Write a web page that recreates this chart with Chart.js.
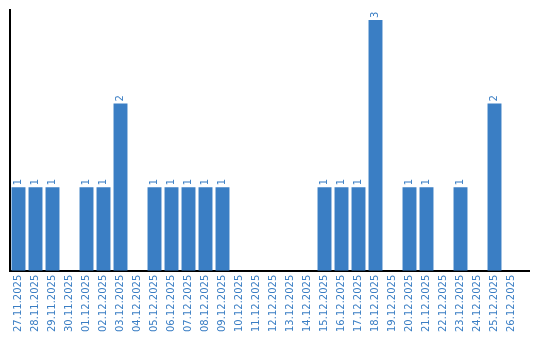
<!DOCTYPE html>
<html>
<head>
<meta charset="utf-8">
<script src="https://cdn.jsdelivr.net/npm/chart.js@4/dist/chart.umd.min.js"></script>
<style>
	html, body { margin: 0; padding: 0; background: #fff; }
	#wrap { width: 540px; height: 340px; }
</style>
</head>
<body>
<div id="wrap"><canvas id="grafico"></canvas></div>
<script>
var dias = ['27.11.2025', '28.11.2025', '29.11.2025', '30.11.2025', '01.12.2025', '02.12.2025',
	'03.12.2025', '04.12.2025', '05.12.2025', '06.12.2025', '07.12.2025', '08.12.2025',
	'09.12.2025', '10.12.2025', '11.12.2025', '12.12.2025', '13.12.2025', '14.12.2025',
	'15.12.2025', '16.12.2025', '17.12.2025', '18.12.2025', '19.12.2025', '20.12.2025',
	'21.12.2025', '22.12.2025', '23.12.2025', '24.12.2025', '25.12.2025', '26.12.2025'];
var quantidades = [1, 1, 1, 0, 1, 1, 2, 0, 1, 1, 1, 1, 1, 0, 0, 0, 0, 0, 1, 1, 1, 3, 0, 1, 1, 0, 1, 0, 2, 0];

var azul = '#3a7ec4';

// rotulos verticais em cima de cada barra
var rotulosBarras = {
	id: 'rotulosBarras',
	afterDatasetsDraw: function(chart) {
		var ctx = chart.ctx;
		var meta = chart.getDatasetMeta(0);
		ctx.save();
		ctx.fillStyle = azul;
		ctx.font = '10px "DejaVu Sans"';
		ctx.textAlign = 'left';
		ctx.textBaseline = 'middle';
		meta.data.forEach(function(bar, i) {
			var v = chart.data.datasets[0].data[i];
			if (!v) return;
			ctx.save();
			ctx.translate(bar.x, bar.y - 2);
			ctx.rotate(-Math.PI / 2);
			ctx.fillText(String(v), 0, 0);
			ctx.restore();
		});
		ctx.restore();
	}
};

// o eixo x passa um pouco alem da ultima categoria
var eixoEstendido = {
	id: 'eixoEstendido',
	afterDraw: function(chart) {
		var ctx = chart.ctx;
		var area = chart.chartArea;
		var y = Math.round(chart.scales.x.top);
		ctx.save();
		ctx.strokeStyle = '#000';
		ctx.lineWidth = 2;
		ctx.beginPath();
		ctx.moveTo(area.right - 1, y);
		ctx.lineTo(area.right + 10, y);
		ctx.stroke();
		ctx.restore();
	}
};

new Chart(document.getElementById('grafico').getContext('2d'), {
	type: 'bar',
	data: {
		labels: dias,
		datasets: [{
			data: quantidades,
			backgroundColor: azul,
			barPercentage: 0.82,
			categoryPercentage: 1
		}]
	},
	options: {
		responsive: true,
		maintainAspectRatio: false,
		animation: false,
		layout: { padding: { left: 10, right: 20, top: 10, bottom: 4 } },
		plugins: {
			legend: { display: false },
			tooltip: { enabled: false }
		},
		scales: {
			x: {
				grid: { display: false, drawTicks: false },
				border: { color: '#000', width: 2 },
				ticks: {
					color: azul,
					font: { family: 'DejaVu Sans', size: 10 },
					minRotation: 90,
					maxRotation: 90,
					autoSkip: false,
					padding: 4
				}
			},
			y: {
				min: 0,
				max: 3.12,
				grid: { display: false, drawTicks: false },
				border: { color: '#000', width: 2 },
				ticks: { display: false }
			}
		}
	},
	plugins: [rotulosBarras, eixoEstendido]
});
</script>
</body>
</html>
